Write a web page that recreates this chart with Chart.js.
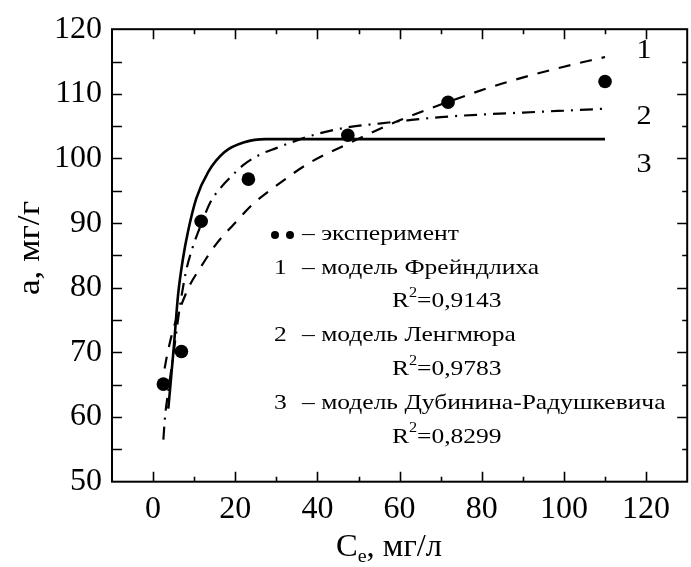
<!DOCTYPE html>
<html>
<head>
<meta charset="utf-8">
<script src="https://cdn.jsdelivr.net/npm/chart.js@4.4.1/dist/chart.umd.min.js"></script>
<style>
  html, body { margin: 0; padding: 0; background: #fff; overflow: hidden; }
  #wrap { width: 694px; height: 567px; }
</style>
</head>
<body>
<div id="wrap"><canvas id="chart"></canvas></div>
<script>
// ось X / ось Y
const xTicks = [0, 20, 40, 60, 80, 100, 120];
const yTicks = [50, 60, 70, 80, 90, 100, 110, 120];

// эксперимент
const expX = [2.5, 6.9, 11.7, 23.2, 47.4, 71.8, 110.0];
const expY = [65.1, 70.15, 90.3, 96.8, 103.6, 108.7, 111.9];

// 1 – Фрейндлих (пунктир)
const freundX = [2.8, 3.3, 4.5, 6, 8.7, 11.7, 15.4, 19.6, 24.4, 30, 38, 47.5, 60, 72, 85, 100, 110];
const freundY = [67.5, 69.2, 72.6, 75.8, 80.1, 83.3, 86.8, 89.8, 93.0, 95.8, 99.3, 102.3, 105.9, 108.8, 111.6, 114.2, 115.7];

// 2 – Ленгмюр (штрих-пунктир)
const langX = [2.5, 2.9, 3.7, 5, 6.5, 8, 9.5, 11.5, 14, 16.5, 19, 22, 26, 30, 35, 40, 48, 55, 62, 70, 80, 90, 100, 110];
const langY = [56.5, 60, 64, 70, 77, 82.5, 86, 89.5, 93.3, 95.5, 97.2, 99, 100.6, 101.6, 102.8, 103.8, 104.9, 105.4, 105.9, 106.4, 106.8, 107.1, 107.4, 107.7];

// 3 – Дубинин-Радушкевич (сплошная)
const drX = [3.7, 5, 6.1, 7.3, 8.5, 10.5, 13.4, 17.4, 22.2, 27.4, 35, 50, 110];
const drY = [61.3, 70.5, 79.0, 84.6, 88.7, 93.8, 97.9, 101.0, 102.5, 103.0, 103.0, 103.0, 103.0];

// подписи кривых (в единицах данных)
const curveLabels = [['1', 119.5, 116.7], ['2', 119.5, 106.4], ['3', 119.5, 99.0]];

const legendRows = [
  { mark: 'dots', text: '– эксперимент' },
  { mark: '1', text: '– модель Фрейндлиха' },
  { r2: '=0,9143' },
  { mark: '2', text: '– модель Ленгмюра' },
  { r2: '=0,9783' },
  { mark: '3', text: '– модель Дубинина-Радушкевича' },
  { r2: '=0,8299' },
];

const pts = (xs, ys) => xs.map((x, i) => ({ x, y: ys[i] }));
const SERIF = '"Liberation Serif", "Times New Roman", serif';

// текст в оригинале слегка растянут по горизонтали
function stretchText(ctx, str, x, y, size, sx, align) {
  ctx.save();
  ctx.font = `${size}px ${SERIF}`;
  ctx.textBaseline = 'middle';
  ctx.textAlign = 'left';
  const w = ctx.measureText(str).width * sx;
  const x0 = align === 'center' ? x - w / 2 : x;
  ctx.translate(x0, y);
  ctx.scale(sx, 1);
  ctx.fillText(str, 0, 0);
  ctx.restore();
  return w;
}

const framePlugin = {
  id: 'frame',
  afterDraw(chart) {
    const { ctx, chartArea: a, scales: { x, y } } = chart;
    ctx.save();
    ctx.strokeStyle = '#000';
    ctx.fillStyle = '#000';
    ctx.lineWidth = 2;
    ctx.strokeRect(a.left, a.top, a.right - a.left, a.bottom - a.top);

    // засечки внутрь
    ctx.lineWidth = 1.6;
    ctx.beginPath();
    const xs = [];
    xTicks.forEach((v, i) => { xs.push([v, 10]); if (i < xTicks.length - 1) xs.push([(v + xTicks[i + 1]) / 2, 5]); });
    xs.forEach(([v, len]) => {
      const px = Math.round(x.getPixelForValue(v)) + 0.5;
      ctx.moveTo(px, a.bottom); ctx.lineTo(px, a.bottom - len);
      ctx.moveTo(px, a.top); ctx.lineTo(px, a.top + len);
    });
    const ys = [];
    yTicks.forEach((v, i) => { ys.push([v, 10]); if (i < yTicks.length - 1) ys.push([(v + yTicks[i + 1]) / 2, 5]); });
    ys.forEach(([v, len]) => {
      const py = Math.round(y.getPixelForValue(v)) + 0.5;
      if (py <= a.top + 1 || py >= a.bottom - 1) return;
      ctx.moveTo(a.left, py); ctx.lineTo(a.left + 10, py);
      ctx.moveTo(a.right, py); ctx.lineTo(a.right - len, py);
    });
    ctx.stroke();

    // номера кривых
    curveLabels.forEach(([t, vx, vy]) => {
      stretchText(ctx, t, x.getPixelForValue(vx), y.getPixelForValue(vy), 28, 1.08, 'center');
    });

    // легенда-текст
    const FS = 22, SX = 1.16;
    const lx = 274, rowY0 = 234, step = 33.8;
    legendRows.forEach((r, i) => {
      const ry = rowY0 + i * step;
      if (r.mark === 'dots') {
        [275, 290].forEach(cx => { ctx.beginPath(); ctx.arc(cx, ry + 1, 4, 0, Math.PI * 2); ctx.fill(); });
        stretchText(ctx, r.text, 302, ry, FS, SX);
      } else if (r.mark) {
        stretchText(ctx, r.mark, lx, ry, FS, SX);
        stretchText(ctx, r.text, 302, ry, FS, SX);
      } else {
        let cx = 392;
        cx += stretchText(ctx, 'R', cx, ry, FS, SX);
        stretchText(ctx, '2', cx, ry - 8, 14, SX);
        cx += 8;
        stretchText(ctx, r.r2, cx, ry, FS, SX);
      }
    });

    // подпись оси X: Ce, мг/л
    const cy = 548;
    let tx = 336;
    tx += stretchText(ctx, 'C', tx, cy, 31, 1.05);
    tx += stretchText(ctx, 'e', tx, cy + 9, 19, 1.05);
    stretchText(ctx, ', мг/л', tx, cy, 31, 1.05);

    // подпись оси Y: a, мг/г
    ctx.save();
    ctx.translate(31, 248);
    ctx.rotate(-Math.PI / 2);
    stretchText(ctx, 'a, мг/г', 0, 0, 32, 1.1, 'center');
    ctx.restore();
    ctx.restore();
  }
};

new Chart(document.getElementById('chart'), {
  type: 'scatter',
  data: {
    datasets: [
      {
        label: 'эксперимент', data: pts(expX, expY),
        pointRadius: 6.8, pointBackgroundColor: '#000', pointBorderWidth: 0, showLine: false, order: 0
      },
      {
        label: 'модель Фрейндлиха', data: pts(freundX, freundY), showLine: true,
        borderColor: '#000', borderWidth: 2.2, borderDash: [12, 10], pointRadius: 0,
        cubicInterpolationMode: 'monotone', order: 1
      },
      {
        label: 'модель Ленгмюра', data: pts(langX, langY), showLine: true,
        borderColor: '#000', borderWidth: 2.2, borderDash: [13, 7, 2, 7], pointRadius: 0,
        cubicInterpolationMode: 'monotone', order: 2
      },
      {
        label: 'модель Дубинина-Радушкевича', data: pts(drX, drY), showLine: true,
        borderColor: '#000', borderWidth: 2.6, pointRadius: 0,
        cubicInterpolationMode: 'monotone', order: 3
      }
    ]
  },
  options: {
    responsive: true, maintainAspectRatio: false, animation: false,
    layout: { padding: { top: 26.5, right: 1, left: 0, bottom: 0 } },
    plugins: { legend: { display: false }, tooltip: { enabled: false } },
    scales: {
      x: {
        type: 'linear', min: -10, max: 130,
        afterBuildTicks: s => { s.ticks = xTicks.map(v => ({ value: v })); },
        afterFit: s => { s.height = 85.3; },
        grid: { display: false, drawTicks: false }, border: { display: false },
        ticks: { color: '#000', padding: 9, font: { family: SERIF, size: 32 } }
      },
      y: {
        type: 'linear', min: 50, max: 120,
        afterBuildTicks: s => { s.ticks = yTicks.map(v => ({ value: v })); },
        afterFit: s => { s.width = 112; },
        grid: { display: false, drawTicks: false }, border: { display: false },
        ticks: { color: '#000', padding: 10, font: { family: SERIF, size: 32 } }
      }
    }
  },
  plugins: [framePlugin]
});
</script>
</body>
</html>
